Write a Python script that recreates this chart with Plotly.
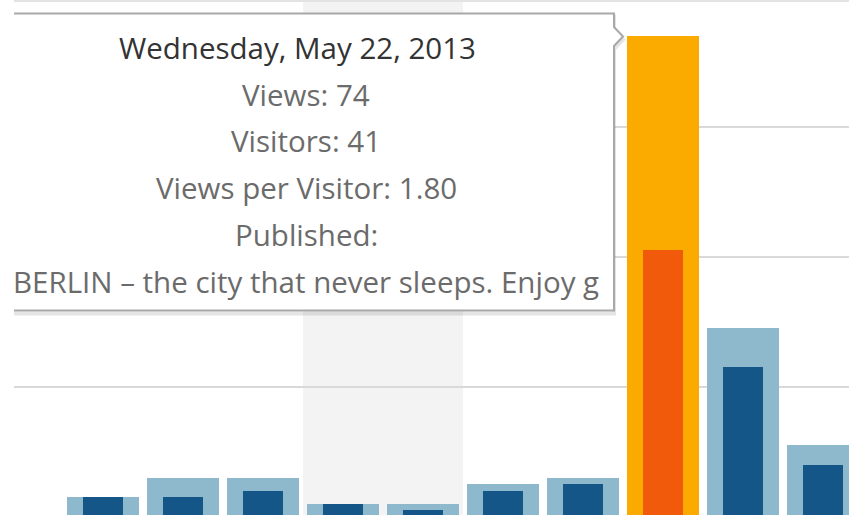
import pandas as pd
import plotly.graph_objects as go

# daily stats, May 15 - May 24 2013
dates = pd.date_range("2013-05-15", "2013-05-24", freq="D")
views = [3, 6, 6, 2, 2, 5, 6, 74, 29, 11]
visitors = [3, 3, 4, 2, 1, 4, 5, 41, 23, 8]
highlight_date = "2013-05-22"
weekend = ["2013-05-18", "2013-05-19"]

tooltip_title = "Wednesday, May 22, 2013"
tooltip_lines = ["Views: 74", "Visitors: 41", "Views per Visitor: 1.80", "Published:"]
tooltip_post = "BERLIN – the city that never sleeps. Enjoy g"

W, H = 849, 515
L = 14
DAY = 86400000


def px(x):
    return (x - L) / (W - L)


def py(y):
    return 1 - y / H


hl = [str(d.date()) == highlight_date for d in dates]
view_colors = ["#fbaa00" if h else "#8eb9cd" for h in hl]
visitor_colors = ["#f05a0a" if h else "#155689" for h in hl]

fig = go.Figure()
fig.add_trace(go.Bar(x=dates, y=views, width=0.9 * DAY, marker_color=view_colors,
                     marker_line_width=0, name="Views", hoverinfo="skip"))
fig.add_trace(go.Bar(x=dates, y=visitors, width=0.5 * DAY, marker_color=visitor_colors,
                     marker_line_width=0, name="Visitors", hoverinfo="skip"))

# weekend band
fig.add_vrect(x0=pd.Timestamp(weekend[0]) - pd.Timedelta(hours=12),
              x1=pd.Timestamp(weekend[1]) + pd.Timedelta(hours=12),
              fillcolor="#f3f3f3", line_width=0, layer="below")

# top border line
fig.add_shape(type="line", xref="paper", yref="paper", x0=0, x1=1, y0=py(1), y1=py(1),
              line=dict(color="#e3e3e3", width=2))

# tooltip box (left edge clipped), shadow first
def box_path(dx, dy):
    pts = [(L, 13.5), (614, 13.5), (614, 27), (623, 36.5), (614, 46), (614, 310.5), (L, 310.5)]
    return "M " + " L ".join(f"{px(x + dx):.5f},{py(y + dy):.5f}" for x, y in pts)

fig.add_shape(type="path", xref="paper", yref="paper", path=box_path(0, 3),
              line=dict(color="rgba(0,0,0,0.10)", width=4))
fig.add_shape(type="path", xref="paper", yref="paper", path=box_path(0, 0),
              fillcolor="white", line=dict(color="#a8a8a8", width=2))

font = "Open Sans"
fs = 29.5
fig.add_annotation(text=tooltip_title, xref="paper", yref="paper", x=px(297), y=py(47),
                   xanchor="center", yanchor="middle", showarrow=False,
                   font=dict(family=font, size=fs, color="#333333"))
for i, t in enumerate(tooltip_lines):
    fig.add_annotation(text=t, xref="paper", yref="paper", x=px(306), y=py(94 + 46.7 * i),
                       xanchor="center", yanchor="middle", showarrow=False,
                       font=dict(family=font, size=fs, color="#6b6b6b"))
fig.add_annotation(text=tooltip_post, xref="paper", yref="paper", x=px(L - 3), y=py(281),
                   xanchor="left", yanchor="middle", showarrow=False,
                   font=dict(family=font, size=fs, color="#6b6b6b"))

x0 = dates[0] - pd.Timedelta(days=89 / 80)
x1 = dates[0] + pd.Timedelta(days=(W - 103) / 80)
base_px, unit_px = 516.7, 6.5

fig.update_layout(
    width=W, height=H,
    barmode="overlay",
    bargap=0,
    showlegend=False,
    plot_bgcolor="white",
    paper_bgcolor="white",
    margin=dict(l=L, r=0, t=0, b=0),
    xaxis=dict(type="date", range=[x0, x1], showgrid=False, showticklabels=False,
               zeroline=False, ticks=""),
    yaxis=dict(range=[(base_px - H) / unit_px, base_px / unit_px], dtick=20, tick0=0,
               showgrid=True, gridcolor="#d9d9d9", gridwidth=2, showticklabels=False,
               zeroline=False, ticks=""),
)

# page has a default body margin; drop it so the figure sits at the window origin
fig.write_html("out.html", config={"displayModeBar": False},
               post_script="document.body.style.margin='0';")
